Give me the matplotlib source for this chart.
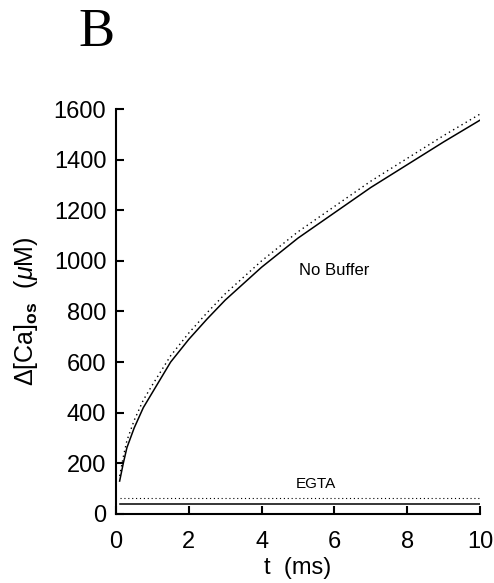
import matplotlib
matplotlib.use("Agg")
import matplotlib.pyplot as plt
import matplotlib.ticker as ticker

plt.rcParams["font.family"] = ["Liberation Sans", "DejaVu Sans"]
plt.rcParams["mathtext.fontset"] = "custom"
plt.rcParams["mathtext.rm"] = "Liberation Sans"
plt.rcParams["mathtext.it"] = "Liberation Sans:italic"
plt.rcParams["mathtext.bf"] = "Liberation Sans:bold"

# No Buffer: solid and dotted curves
t_nobuf = [0.1, 0.2, 0.3, 0.5, 0.75, 1.0, 1.5, 2.0, 2.5, 3.0, 4.0, 5.0, 6.0, 7.0, 8.0, 9.0, 10.0]
ca_nobuf_solid = [130, 200, 262, 340, 420, 480, 600, 690, 770, 845, 975, 1090, 1190, 1290, 1380, 1470, 1556]
ca_nobuf_dot = [150, 225, 290, 370, 450, 510, 625, 715, 795, 870, 1000, 1115, 1215, 1315, 1405, 1495, 1580]

# EGTA: flat traces
t_egta = [0.1, 10.0]
ca_egta_solid = [41, 41]
ca_egta_dot = [64, 64]

fig = plt.figure(figsize=(4.94, 5.83), dpi=100)
ax = fig.add_axes([0.2348, 0.1184, 0.7369, 0.6946])

ax.plot(t_nobuf, ca_nobuf_solid, color="black", lw=1.1)
ax.plot(t_nobuf, ca_nobuf_dot, color="black", lw=1.0, linestyle=(0, (1, 2.5)))
ax.plot(t_egta, ca_egta_solid, color="black", lw=1.1)
ax.plot(t_egta, ca_egta_dot, color="black", lw=0.8, linestyle=(0, (1, 2.5)))

ax.text(6.0, 963, "No Buffer", ha="center", va="center", fontsize=12)
ax.text(5.5, 117, "EGTA", ha="center", va="center", fontsize=11)

ax.set_xlim(0, 10)
ax.set_ylim(0, 1600)
ax.xaxis.set_major_locator(ticker.MultipleLocator(2))
ax.yaxis.set_major_locator(ticker.MultipleLocator(200))

for side in ("top", "right"):
    ax.spines[side].set_visible(False)
for side in ("left", "bottom"):
    ax.spines[side].set_linewidth(1.5)

ax.tick_params(axis="both", which="major", direction="in", length=6, width=1.5,
               labelsize=17)
ax.tick_params(axis="x", which="major", pad=12)
ax.tick_params(axis="y", which="major", pad=7)

ax.set_xlabel("t  (ms)", fontsize=17, labelpad=3)
ax.set_ylabel(r"$\Delta$[Ca]$_{\mathbf{os}}$  ($\mu$M)", fontsize=18, labelpad=10)

fig.text(0.196, 0.943, "B", fontsize=39, family="Liberation Serif",
         ha="center", va="center")

fig.savefig("out.png", dpi=100)
